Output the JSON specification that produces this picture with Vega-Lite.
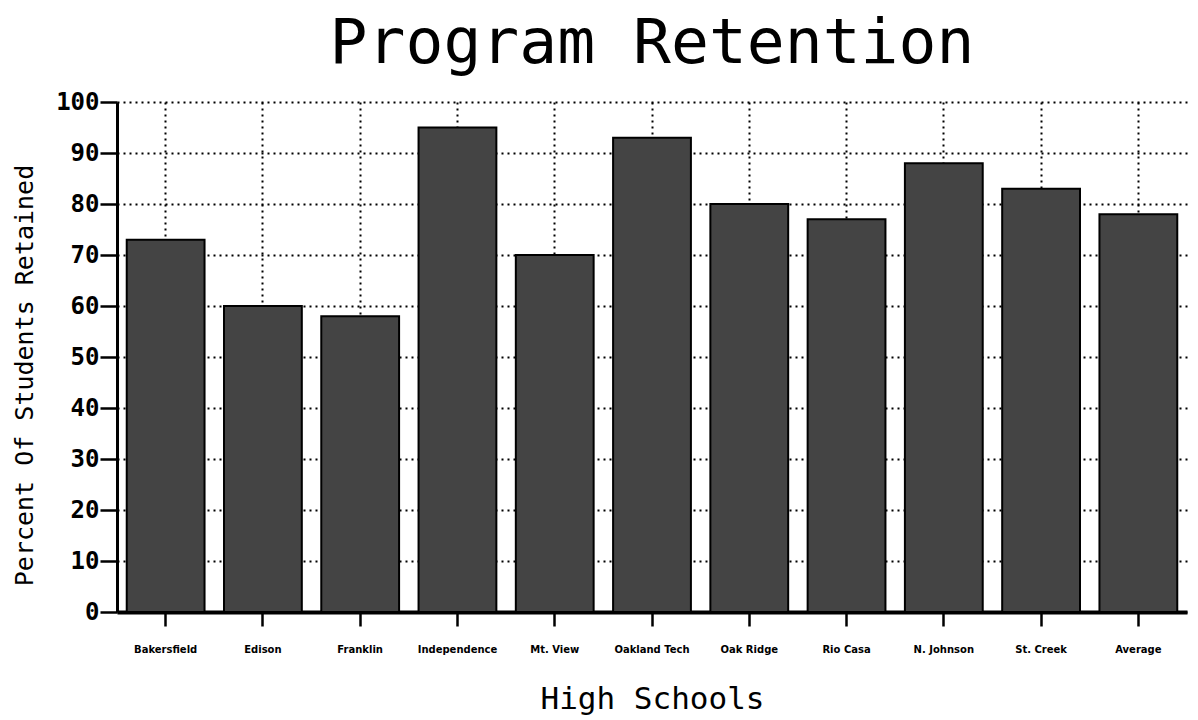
{
  "$schema": "https://vega.github.io/schema/vega-lite/v6.json",
  "autosize": "none",
  "width": 1070,
  "height": 510,
  "padding": {"left": 117, "top": 102, "right": 11, "bottom": 108},
  "background": "white",
  "title": {
    "text": "Program Retention",
    "font": "DejaVu Sans Mono",
    "fontSize": 63,
    "fontWeight": "normal",
    "color": "black",
    "anchor": "middle",
    "offset": 14
  },
  "config": {
    "view": {"stroke": null},
    "axis": {"labelColor": "black", "titleColor": "black", "domainColor": "black", "tickColor": "black"}
  },
  "data": {
    "values": [
      {"school": "Bakersfield", "pct": 73},
      {"school": "Edison", "pct": 60},
      {"school": "Franklin", "pct": 58},
      {"school": "Independence", "pct": 95},
      {"school": "Mt. View", "pct": 70},
      {"school": "Oakland Tech", "pct": 93},
      {"school": "Oak Ridge", "pct": 80},
      {"school": "Rio Casa", "pct": 77},
      {"school": "N. Johnson", "pct": 88},
      {"school": "St. Creek", "pct": 83},
      {"school": "Average", "pct": 78}
    ]
  },
  "mark": {"type": "bar", "fill": "#444444", "stroke": "black", "strokeWidth": 2},
  "encoding": {
    "x": {
      "field": "school",
      "type": "nominal",
      "sort": null,
      "scale": {"paddingInner": 0.2, "paddingOuter": 0.1},
      "axis": {
        "title": "High Schools",
        "titleFont": "DejaVu Sans Mono",
        "titleFontSize": 31,
        "titleFontWeight": "normal",
        "titlePadding": 30,
        "labelAngle": 0,
        "labelFont": "DejaVu Sans",
        "labelFontSize": 10,
        "labelFontWeight": "bold",
        "labelPadding": 18,
        "tickSize": 14,
        "tickWidth": 2.5,
        "domainWidth": 4,
        "bandPosition": 0.5,
        "grid": true,
        "gridColor": "black",
        "gridDash": [2, 4],
        "gridWidth": 2,
        "gridOpacity": 1
      }
    },
    "y": {
      "field": "pct",
      "type": "quantitative",
      "scale": {"domain": [0, 100]},
      "axis": {
        "title": "Percent Of Students Retained",
        "titleFont": "DejaVu Sans Mono",
        "titleFontSize": 25,
        "titleFontWeight": "normal",
        "titlePadding": 18,
        "titleY": 273,
        "values": [0, 10, 20, 30, 40, 50, 60, 70, 80, 90, 100],
        "labelFont": "DejaVu Sans Mono",
        "labelFontSize": 24,
        "labelFontWeight": "bold",
        "labelPadding": 1,
        "tickSize": 17,
        "tickWidth": 2.5,
        "domainWidth": 3,
        "grid": true,
        "gridColor": "black",
        "gridDash": [2, 4],
        "gridWidth": 2,
        "gridOpacity": 1
      }
    }
  }
}
